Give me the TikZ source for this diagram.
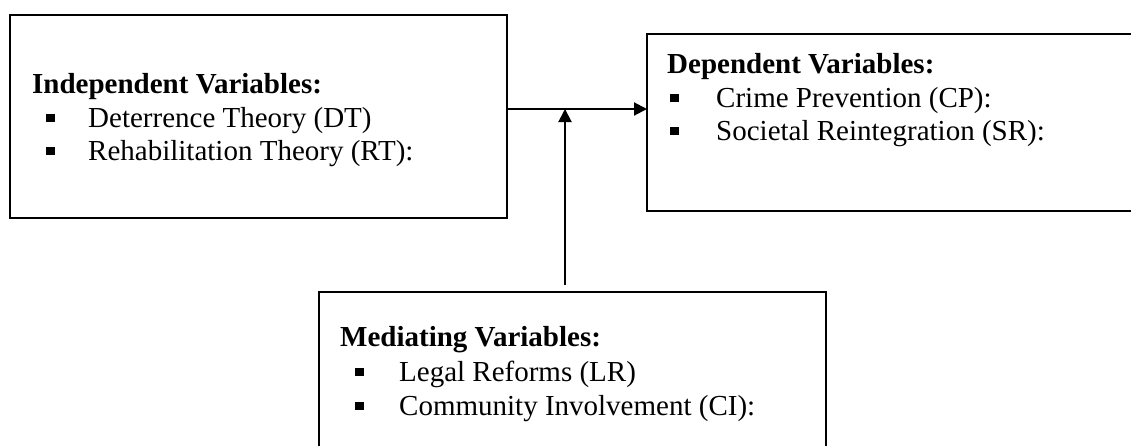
\documentclass[tikz,border=0pt]{standalone}
\usepackage{fontspec}
\setmainfont{Liberation Serif}
\usetikzlibrary{arrows.meta}

\newcommand{\vineta}{\rule[5pt]{8.5pt}{8.5pt}}

\begin{document}
\begin{tikzpicture}[x=1pt, y=-1pt,
% Estilo de las cajas
caja/.style={rectangle, draw=black, line width=2.2pt, anchor=north west, inner sep=0pt, outer sep=0pt},
% Estilo de los textos
titulo/.style={anchor=base west, inner sep=0pt, font=\fontsize{29}{33}\selectfont\bfseries},
item/.style={anchor=base west, inner sep=0pt, font=\fontsize{29}{33}\selectfont},
% Estilo de las flechas
flecha/.style={-{Triangle[length=13pt,width=13pt]}, line width=2pt},
]
\path[use as bounding box, clip] (0,0) rectangle (1131,445);

% Cajas
\node (indep) at (10,15) [caja, minimum width=497pt, minimum height=203pt]{};
\node (dep) at (647,34) [caja, minimum width=493pt, minimum height=177pt]{};
\node (med) at (319,292) [caja, minimum width=507pt, minimum height=170pt]{};

% Textos
\node (tindep) at (32,93) [titulo]{Independent Variables:};
\node (dt) at (46,127) [item]{\vineta\hspace{33.5pt}Deterrence Theory (DT)};
\node (rt) at (46,160) [item]{\vineta\hspace{33.5pt}Rehabilitation Theory (RT):};

\node (tdep) at (667,73) [titulo]{Dependent Variables:};
\node (cp) at (670,107) [item]{\vineta\hspace{37.5pt}Crime Prevention (CP):};
\node (sr) at (670,140) [item]{\vineta\hspace{37.5pt}Societal Reintegration (SR):};

\node (tmed) at (340,346) [titulo]{Mediating Variables:};
\node (lr) at (355,381) [item]{\vineta\hspace{35.5pt}Legal Reforms (LR)};
\node (ci) at (355,415) [item]{\vineta\hspace{35.5pt}Community Involvement (CI):};

% Flechas
\coordinate (cruce) at (565,109);
\coordinate (pie) at (565,285);
\draw[flecha] (indep.east |- cruce) -- (dep.west |- cruce);
\draw[flecha] (pie) -- (cruce);
\end{tikzpicture}
\end{document}
